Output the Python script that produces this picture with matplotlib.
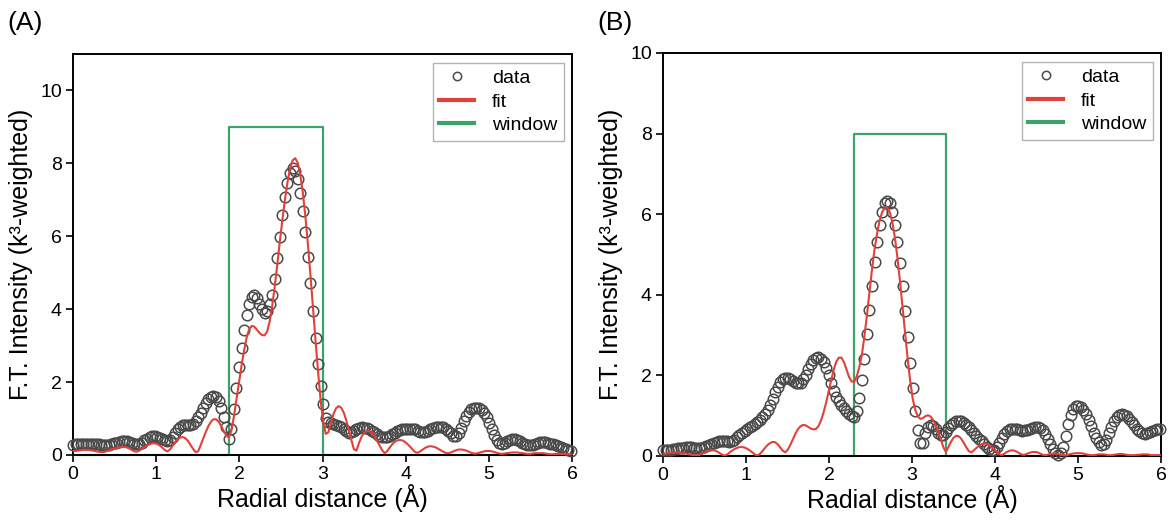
import numpy as np
import matplotlib
matplotlib.use("Agg")
import matplotlib.pyplot as plt
from matplotlib.lines import Line2D

plt.rcParams['font.family'] = ['Liberation Sans', 'DejaVu Sans']

# FT grid step (A), same for both panels
dr = 0.0307
npts = 196
r = np.round(np.arange(npts) * dr, 4)

data_a = [
    0.28, 0.29, 0.29, 0.30, 0.30, 0.31, 0.31, 0.31, 0.31, 0.30,
    0.29, 0.28, 0.27, 0.27, 0.28, 0.30, 0.32, 0.34, 0.36, 0.38,
    0.39, 0.38, 0.36, 0.33, 0.30, 0.29, 0.30, 0.34, 0.40, 0.45,
    0.49, 0.51, 0.52, 0.50, 0.47, 0.43, 0.40, 0.39, 0.42, 0.50,
    0.60, 0.70, 0.77, 0.81, 0.82, 0.82, 0.82, 0.85, 0.92, 1.03,
    1.15, 1.28, 1.42, 1.53, 1.60, 1.62, 1.58, 1.47, 1.28, 1.05,
    0.78, 0.45, 0.72, 1.25, 1.85, 2.40, 2.94, 3.42, 3.83, 4.13,
    4.33, 4.38, 4.30, 4.15, 4.00, 3.90, 3.95, 4.15, 4.40, 4.84,
    5.40, 5.99, 6.57, 7.07, 7.47, 7.74, 7.88, 7.80, 7.56, 7.20,
    6.70, 6.12, 5.43, 4.71, 3.95, 3.22, 2.50, 1.89, 1.39, 1.02,
    0.90, 0.87, 0.84, 0.82, 0.80, 0.76, 0.71, 0.65, 0.61, 0.62,
    0.66, 0.71, 0.75, 0.76, 0.75, 0.73, 0.71, 0.67, 0.62, 0.57,
    0.53, 0.50, 0.48, 0.49, 0.53, 0.57, 0.61, 0.65, 0.68, 0.70,
    0.71, 0.72, 0.72, 0.71, 0.70, 0.67, 0.64, 0.62, 0.62, 0.65,
    0.70, 0.74, 0.77, 0.78, 0.78, 0.76, 0.72, 0.66, 0.59, 0.53,
    0.52, 0.60, 0.75, 0.93, 1.08, 1.19, 1.26, 1.29, 1.30, 1.28,
    1.23, 1.15, 1.03, 0.87, 0.70, 0.54, 0.40, 0.32, 0.30, 0.33,
    0.38, 0.42, 0.44, 0.44, 0.42, 0.38, 0.34, 0.30, 0.28, 0.27,
    0.28, 0.31, 0.34, 0.36, 0.37, 0.36, 0.34, 0.31, 0.29, 0.27,
    0.25, 0.22, 0.19, 0.16, 0.14, 0.12,
]

fit_a = [
    0.10, 0.11, 0.12, 0.13, 0.14, 0.14, 0.14, 0.13, 0.12, 0.10,
    0.09, 0.08, 0.08, 0.10, 0.12, 0.15, 0.17, 0.19, 0.21, 0.22,
    0.22, 0.21, 0.18, 0.14, 0.10, 0.09, 0.12, 0.17, 0.22, 0.27,
    0.30, 0.32, 0.32, 0.30, 0.26, 0.20, 0.13, 0.10, 0.15, 0.25,
    0.35, 0.43, 0.48, 0.49, 0.46, 0.39, 0.28, 0.17, 0.08, 0.10,
    0.27, 0.45, 0.63, 0.79, 0.91, 0.98, 0.98, 0.92, 0.80, 0.66,
    0.54, 0.48, 0.66, 1.05, 1.52, 2.00, 2.45, 2.87, 3.22, 3.45,
    3.54, 3.52, 3.44, 3.35, 3.29, 3.28, 3.38, 3.65, 4.08, 4.62,
    5.22, 5.85, 6.45, 7.00, 7.48, 7.85, 8.08, 8.14, 8.02, 7.70,
    7.20, 6.55, 5.78, 4.93, 4.03, 3.13, 2.27, 1.49, 0.90, 0.58,
    0.62, 0.88, 1.12, 1.28, 1.34, 1.30, 1.17, 0.96, 0.70, 0.42,
    0.16, 0.12, 0.33, 0.50, 0.61, 0.66, 0.66, 0.61, 0.52, 0.40,
    0.27, 0.14, 0.05, 0.10, 0.20, 0.29, 0.36, 0.40, 0.41, 0.40,
    0.36, 0.30, 0.23, 0.15, 0.08, 0.06, 0.10, 0.15, 0.20, 0.23,
    0.24, 0.23, 0.21, 0.17, 0.13, 0.09, 0.06, 0.05, 0.07, 0.10,
    0.13, 0.15, 0.15, 0.14, 0.12, 0.09, 0.06, 0.04, 0.04, 0.06,
    0.08, 0.10, 0.11, 0.11, 0.10, 0.08, 0.06, 0.04, 0.03, 0.04,
    0.05, 0.06, 0.07, 0.07, 0.07, 0.06, 0.05, 0.04, 0.03, 0.03,
    0.04, 0.05, 0.05, 0.05, 0.05, 0.04, 0.03, 0.02, 0.02, 0.03,
    0.03, 0.03, 0.03, 0.02, 0.02, 0.02,
]

data_b = [
    0.14, 0.14, 0.15, 0.16, 0.17, 0.18, 0.19, 0.20, 0.21, 0.22,
    0.22, 0.22, 0.21, 0.20, 0.20, 0.21, 0.22, 0.24, 0.27, 0.30,
    0.33, 0.35, 0.37, 0.38, 0.37, 0.36, 0.35, 0.36, 0.40, 0.46,
    0.52, 0.58, 0.63, 0.67, 0.71, 0.75, 0.79, 0.84, 0.89, 0.96,
    1.04, 1.14, 1.27, 1.42, 1.58, 1.72, 1.83, 1.90, 1.93, 1.93,
    1.90, 1.86, 1.82, 1.80, 1.82, 1.90, 2.02, 2.15, 2.28, 2.38,
    2.44, 2.45, 2.41, 2.32, 2.18, 2.00, 1.80, 1.62, 1.47, 1.36,
    1.27, 1.19, 1.11, 1.04, 0.98, 0.96, 1.12, 1.45, 1.89, 2.41,
    3.02, 3.63, 4.23, 4.81, 5.32, 5.73, 6.05, 6.27, 6.33, 6.27,
    6.05, 5.73, 5.32, 4.79, 4.23, 3.59, 2.94, 2.30, 1.68, 1.12,
    0.64, 0.32, 0.32, 0.56, 0.72, 0.76, 0.74, 0.68, 0.58, 0.52,
    0.51, 0.60, 0.70, 0.78, 0.83, 0.86, 0.87, 0.86, 0.83, 0.78,
    0.72, 0.65, 0.57, 0.50, 0.43, 0.36, 0.29, 0.23, 0.18, 0.15,
    0.15, 0.22, 0.33, 0.45, 0.55, 0.62, 0.66, 0.68, 0.68, 0.66,
    0.64, 0.63, 0.64, 0.65, 0.67, 0.69, 0.71, 0.72, 0.70, 0.64,
    0.55, 0.43, 0.30, 0.18, 0.08, 0.03, 0.08, 0.22, 0.50, 0.80,
    1.02, 1.16, 1.24, 1.25, 1.22, 1.14, 1.03, 0.89, 0.74, 0.58,
    0.44, 0.34, 0.28, 0.30, 0.40, 0.56, 0.72, 0.86, 0.96, 1.02,
    1.04, 1.02, 0.98, 0.92, 0.84, 0.76, 0.68, 0.61, 0.57, 0.55,
    0.56, 0.59, 0.62, 0.65, 0.67, 0.68,
]

fit_b = [
    0.05, 0.06, 0.07, 0.08, 0.09, 0.09, 0.09, 0.08, 0.07, 0.06,
    0.04, 0.03, 0.02, 0.01, 0.02, 0.05, 0.08, 0.11, 0.13, 0.14,
    0.14, 0.12, 0.08, 0.04, 0.01, 0.03, 0.08, 0.13, 0.17, 0.20,
    0.22, 0.22, 0.21, 0.18, 0.14, 0.09, 0.04, 0.01, 0.05, 0.12,
    0.20, 0.27, 0.32, 0.35, 0.34, 0.29, 0.21, 0.13, 0.09, 0.16,
    0.28, 0.42, 0.56, 0.67, 0.74, 0.77, 0.76, 0.72, 0.68, 0.66,
    0.67, 0.74, 0.88, 1.08, 1.32, 1.60, 1.88, 2.14, 2.34, 2.44,
    2.44, 2.33, 2.15, 1.96, 1.85, 1.84, 1.97, 2.20, 2.50, 2.95,
    3.48, 4.05, 4.62, 5.12, 5.52, 5.84, 6.05, 6.16, 6.17, 6.05,
    5.80, 5.42, 4.92, 4.33, 3.70, 3.05, 2.42, 1.86, 1.42, 1.14,
    0.98, 0.92, 0.94, 0.99, 1.01, 0.98, 0.89, 0.76, 0.60, 0.42,
    0.22, 0.10, 0.22, 0.35, 0.45, 0.50, 0.49, 0.43, 0.33, 0.22,
    0.12, 0.09, 0.14, 0.20, 0.25, 0.29, 0.31, 0.30, 0.27, 0.22,
    0.16, 0.10, 0.04, 0.02, 0.06, 0.10, 0.13, 0.14, 0.13, 0.10,
    0.06, 0.03, 0.03, 0.06, 0.08, 0.10, 0.10, 0.09, 0.06, 0.03,
    0.02, 0.03, 0.05, 0.06, 0.06, 0.05, 0.03, 0.02, 0.02, 0.03,
    0.05, 0.06, 0.07, 0.07, 0.07, 0.06, 0.04, 0.03, 0.02, 0.02,
    0.03, 0.04, 0.04, 0.04, 0.03, 0.02, 0.02, 0.03, 0.04, 0.05,
    0.05, 0.04, 0.03, 0.02, 0.02, 0.02, 0.03, 0.03, 0.04, 0.04,
    0.04, 0.03, 0.02, 0.02, 0.02, 0.02,
]

# fitting windows: (r_min, r_max, drawn height)
window_a = (1.88, 3.01, 9)
window_b = (2.30, 3.41, 8)

RED = "#e2403a"
GREEN = "#3aa469"
CIRC = "#4a4a4a"


def panel(ax, data, fit, win, ymax, label):
    r0, r1, h = win
    ax.plot([0, r0, r0, r1, r1, 6], [0, 0, h, h, 0, 0], color=GREEN, lw=1.6,
            zorder=2, clip_on=False)
    ax.plot(r, data, "o", mfc="none", mec=CIRC, ms=7.6, mew=1.1, zorder=3,
            clip_on=False)
    ax.plot(r, fit, color=RED, lw=1.5, zorder=4)

    ax.set_xlim(0, 6)
    ax.set_ylim(0, ymax)
    ax.set_xticks(range(0, 7))
    ax.set_yticks(range(0, 11, 2))
    ax.tick_params(direction="out", length=5, width=1.2, labelsize=14, pad=3)
    for s in ax.spines.values():
        s.set_linewidth(1.4)
    ax.set_xlabel("Radial distance (Å)", fontsize=18, labelpad=1)
    ax.set_ylabel("F.T. Intensity (k³-weighted)", fontsize=18, labelpad=5)

    handles = [
        Line2D([], [], ls="none", marker="o", mfc="none", mec=CIRC, ms=6, mew=1.1),
        Line2D([], [], color=RED, lw=3),
        Line2D([], [], color=GREEN, lw=3),
    ]
    leg = ax.legend(handles, ["data", "fit", "window"], loc="upper right",
                    fontsize=14, frameon=True, fancybox=False,
                    edgecolor="#a0a0a0", handlelength=1.8, borderpad=0.35,
                    labelspacing=0.3, handletextpad=0.9, borderaxespad=0,
                    bbox_to_anchor=(0.984, 0.978))
    leg.get_frame().set_linewidth(1.0)
    ax.figure.text(ax.get_position().x0 - 0.056, 0.955, label, fontsize=19,
                   va="center", ha="left")


fig = plt.figure(figsize=(11.7, 5.21), dpi=100)
ax1 = fig.add_axes([0.0624, 0.1267, 0.4265, 0.7697])
ax2 = fig.add_axes([0.5667, 0.1248, 0.4256, 0.7735])

panel(ax1, data_a, fit_a, window_a, 11, "(A)")
panel(ax2, data_b, fit_b, window_b, 10, "(B)")

fig.savefig("out.png", dpi=100)
